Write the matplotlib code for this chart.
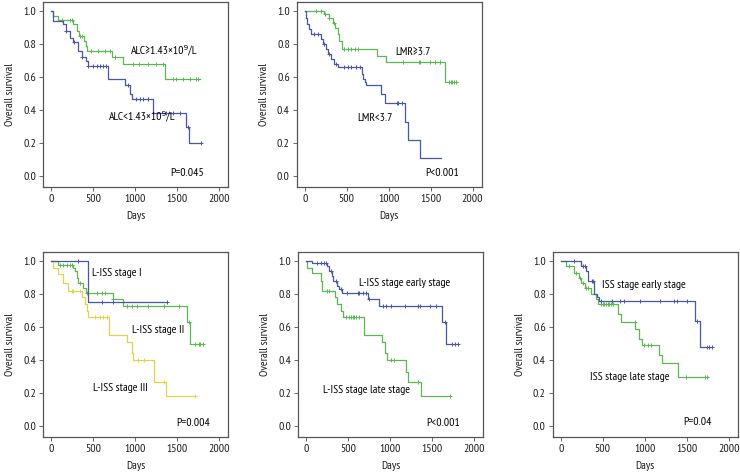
import numpy as np
from matplotlib import pyplot as plt

plt.rcParams['font.family'] = ['PT Sans Narrow', 'DejaVu Sans']
plt.rcParams['font.size'] = 8.5

BLUE = "#4756aa"
GREEN = "#59b84f"
YELLOW = "#e6d04a"

# ---- panel 1: ALC ----
alc_hi_t = [0, 28, 87, 266, 310, 330, 395, 415, 435, 734, 861, 1365]
alc_hi_s = [1.0, 0.97, 0.945, 0.92, 0.88, 0.85, 0.82, 0.79, 0.76, 0.72, 0.68, 0.59]
alc_hi_end = 1774
alc_hi_cens = [127, 226, 246, 345, 365, 480, 563, 643, 702, 762, 976, 1056, 1155, 1254, 1337, 1456, 1496, 1575, 1655, 1734, 1754]

alc_lo_t = [0, 28, 147, 186, 226, 258, 325, 365, 417, 444, 686, 889, 940, 968, 1218, 1615, 1643]
alc_lo_s = [1.0, 0.94, 0.92, 0.88, 0.84, 0.81, 0.76, 0.72, 0.70, 0.67, 0.59, 0.55, 0.50, 0.47, 0.38, 0.30, 0.20]
alc_lo_end = 1794
alc_lo_cens = [186, 274, 365, 444, 504, 544, 583, 623, 662, 921, 1020, 1059, 1099, 1158, 1377, 1456, 1536, 1635, 1794]

# ---- panel 2: LMR ----
lmr_hi_t = [0, 233, 290, 333, 361, 394, 414, 446, 867, 964, 1667]
lmr_hi_s = [1.0, 0.98, 0.96, 0.93, 0.90, 0.86, 0.82, 0.77, 0.73, 0.69, 0.57]
lmr_hi_end = 1819
lmr_hi_cens = [133, 193, 241, 293, 353, 474, 514, 554, 594, 635, 1177, 1357, 1377, 1498, 1558, 1618, 1719, 1739, 1759, 1779, 1799]

lmr_lo_t = [0, 12, 24, 52, 80, 193, 213, 253, 273, 313, 353, 394, 683, 695, 715, 735, 904, 956, 1197, 1229, 1378]
lmr_lo_s = [1.0, 0.96, 0.92, 0.89, 0.86, 0.83, 0.80, 0.77, 0.74, 0.71, 0.68, 0.66, 0.62, 0.59, 0.57, 0.55, 0.50, 0.44, 0.33, 0.22, 0.11]
lmr_lo_end = 1630
lmr_lo_cens = [112, 153, 233, 293, 373, 474, 514, 554, 614, 655, 1096, 1116, 1157]

# ---- panel 3: L-ISS stage I / II / III ----
liss1_t = [0, 446]
liss1_s = [1.0, 0.75]
liss1_end = 1382
liss1_cens = [327, 606, 745, 1382]

liss2_t = [0, 88, 259, 287, 307, 327, 386, 418, 737, 865, 1621, 1653]
liss2_s = [1.0, 0.98, 0.96, 0.94, 0.90, 0.87, 0.84, 0.81, 0.77, 0.73, 0.63, 0.50]
liss2_end = 1809
liss2_cens = [108, 147, 187, 227, 247, 347, 434, 546, 606, 645, 745, 904, 964, 1024, 1163, 1343, 1522, 1641, 1721, 1761, 1781, 1809]

liss3_t = [0, 20, 88, 147, 199, 367, 406, 434, 446, 697, 904, 964, 976, 1223, 1374]
liss3_s = [1.0, 0.96, 0.92, 0.87, 0.82, 0.78, 0.74, 0.70, 0.66, 0.55, 0.51, 0.44, 0.40, 0.27, 0.18]
liss3_end = 1721
liss3_cens = [247, 267, 347, 526, 586, 626, 665, 1044, 1104, 1343, 1721]

# ---- panel 4: L-ISS early / late ----
lissE_t = [0, 72, 252, 272, 304, 320, 372, 392, 432, 732, 864, 1624, 1664]
lissE_s = [1.0, 0.99, 0.97, 0.94, 0.91, 0.88, 0.85, 0.83, 0.81, 0.77, 0.73, 0.63, 0.50]
lissE_end = 1812
lissE_cens = [132, 172, 212, 232, 292, 352, 412, 492, 612, 632, 672, 712, 752, 912, 952, 1012, 1172, 1332, 1352, 1472, 1552, 1652, 1732, 1772, 1812]

lissL_t = [0, 12, 72, 172, 184, 344, 372, 412, 440, 692, 900, 940, 960, 1184, 1212, 1372]
lissL_s = [1.0, 0.96, 0.93, 0.88, 0.82, 0.78, 0.74, 0.70, 0.66, 0.55, 0.51, 0.44, 0.40, 0.33, 0.27, 0.18]
lissL_end = 1720
lissL_cens = [252, 272, 472, 512, 532, 552, 572, 592, 632, 1012, 1052, 1332, 1720]

# ---- panel 5: ISS early / late ----
issE_t = [0, 240, 300, 323, 392, 431, 451, 1605, 1665]
issE_s = [1.0, 0.97, 0.94, 0.88, 0.80, 0.78, 0.76, 0.64, 0.48]
issE_end = 1800
issE_cens = [160, 268, 290, 368, 380, 484, 610, 710, 750, 950, 1180, 1350, 1390, 1510, 1625, 1740, 1770, 1800]

issL_t = [0, 60, 156, 216, 240, 288, 355, 415, 443, 683, 719, 884, 932, 964, 1171, 1203, 1394]
issL_s = [1.0, 0.97, 0.93, 0.90, 0.87, 0.84, 0.80, 0.77, 0.74, 0.68, 0.63, 0.59, 0.53, 0.49, 0.43, 0.38, 0.30]
issL_end = 1753
issL_cens = [104, 176, 232, 264, 300, 330, 480, 500, 520, 540, 560, 580, 600, 620, 880, 990, 1040, 1080, 1490, 1720, 1740]


def km(ax, t, s, end, cens, color):
    tt = list(t) + [end]
    ss = list(s) + [s[-1]]
    ax.step(tt, ss, where='post', color=color, lw=0.9)
    ct = np.array(cens)
    idx = np.searchsorted(np.array(t), ct, side='right') - 1
    cs = np.array(s)[idx]
    ax.plot(ct, cs, '+', color=color, ms=3.5, mew=0.7)


def style(ax):
    ax.set_xlim(-95, 2110)
    ax.set_ylim(-0.067, 1.055)
    ax.set_xticks([0, 500, 1000, 1500, 2000])
    ax.set_yticks([0.0, 0.2, 0.4, 0.6, 0.8, 1.0])
    ax.set_yticklabels(['0.0', '0.2', '0.4', '0.6', '0.8', '1.0'])
    for sp in ax.spines.values():
        sp.set_color('#555555')
        sp.set_linewidth(0.9)
    ax.tick_params(direction='out', length=3, width=0.7, colors='#666666',
                   labelcolor='#1a1a1a', labelsize=8.5, pad=2)
    ax.set_xlabel('Days', fontsize=8.5, color='#1a1a1a', labelpad=5)
    ax.set_ylabel('Overall survival', fontsize=8.5, color='#1a1a1a', labelpad=6)


fig = plt.figure(figsize=(7.4, 4.74), dpi=100)
w, h = 0.25, 0.39
ax1 = fig.add_axes([0.058, 0.6055, w, h])
ax2 = fig.add_axes([0.401, 0.6055, w, h])
ax3 = fig.add_axes([0.058, 0.078, w, h])
ax4 = fig.add_axes([0.403, 0.078, w, h])
ax5 = fig.add_axes([0.747, 0.078, w, h])

km(ax1, alc_hi_t, alc_hi_s, alc_hi_end, alc_hi_cens, GREEN)
km(ax1, alc_lo_t, alc_lo_s, alc_lo_end, alc_lo_cens, BLUE)
ax1.text(960, 0.763, 'ALC≥1.43×10⁹/L', va='center')
ax1.text(694, 0.362, 'ALC<1.43×10⁹/L', va='center')
ax1.text(1428, 0.02, 'P=0.045', va='center')

km(ax2, lmr_hi_t, lmr_hi_s, lmr_hi_end, lmr_hi_cens, GREEN)
km(ax2, lmr_lo_t, lmr_lo_s, lmr_lo_end, lmr_lo_cens, BLUE)
ax2.text(1076, 0.753, 'LMR≥3.7', va='center')
ax2.text(626, 0.352, 'LMR<3.7', va='center')
ax2.text(1438, 0.02, 'P<0.001', va='center')

km(ax3, liss3_t, liss3_s, liss3_end, liss3_cens, YELLOW)
km(ax3, liss2_t, liss2_s, liss2_end, liss2_cens, GREEN)
km(ax3, liss1_t, liss1_s, liss1_end, liss1_cens, BLUE)
ax3.text(494, 0.93, 'L-ISS stage I', va='center')
ax3.text(972, 0.58, 'L-ISS stage II', va='center')
ax3.text(498, 0.232, 'L-ISS stage III', va='center')
ax3.text(1490, 0.02, 'P=0.004', va='center')

km(ax4, lissL_t, lissL_s, lissL_end, lissL_cens, GREEN)
km(ax4, lissE_t, lissE_s, lissE_end, lissE_cens, BLUE)
ax4.text(624, 0.869, 'L-ISS stage early stage', va='center')
ax4.text(200, 0.216, 'L-ISS stage late stage', va='center')
ax4.text(1432, 0.02, 'P<0.001', va='center')

km(ax5, issL_t, issL_s, issL_end, issL_cens, GREEN)
km(ax5, issE_t, issE_s, issE_end, issE_cens, BLUE)
ax5.text(486, 0.855, 'ISS stage early stage', va='center')
ax5.text(347, 0.30, 'ISS stage late stage', va='center')
ax5.text(1462, 0.024, 'P=0.04', va='center')

for ax in [ax1, ax2, ax3, ax4, ax5]:
    style(ax)

fig.savefig('out.png', dpi=100)
